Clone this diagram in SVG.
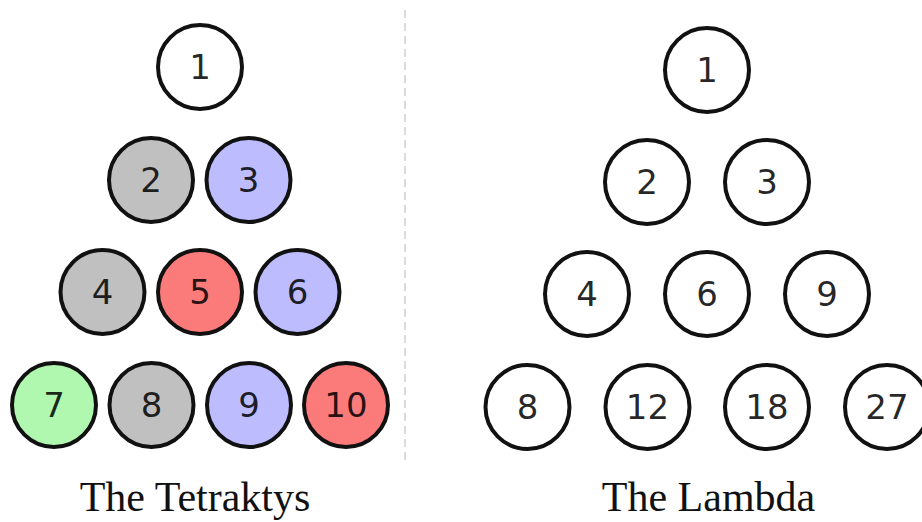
<svg xmlns="http://www.w3.org/2000/svg" width="922" height="522" viewBox="0 0 922 522">
<style>
.c{stroke:#111;stroke-width:4}
.w{fill:#fff}.g{fill:#c0c0c0}.b{fill:#bcbcff}.r{fill:#fb7b7b}.n{fill:#b0f8b0}
.t{font-family:"DejaVu Sans",sans-serif;font-size:34px;text-anchor:middle;fill:#000;fill-opacity:0.85}
.h{font-family:"Liberation Serif",serif;font-size:42px;text-anchor:middle;fill:#111}
</style>
<rect width="922" height="522" fill="#fff"/>
<g id="divider"><line x1="405" y1="10" x2="405" y2="462" stroke="#c4c4c4" stroke-width="1.2" stroke-dasharray="8 5"/></g>
<g id="connectors"/>
<g id="tetraktys">
<g id="t1"><circle class="c w" cx="200" cy="67" r="42"/><text class="t" x="200" y="79.4">1</text></g>
<g id="t2"><circle class="c g" cx="151" cy="180" r="42"/><text class="t" x="151" y="192.4">2</text></g>
<g id="t3"><circle class="c b" cx="248.5" cy="180" r="42"/><text class="t" x="248.5" y="192.4">3</text></g>
<g id="t4"><circle class="c g" cx="102.5" cy="292" r="42"/><text class="t" x="102.5" y="304.4">4</text></g>
<g id="t5"><circle class="c r" cx="200" cy="292" r="42"/><text class="t" x="200" y="304.4">5</text></g>
<g id="t6"><circle class="c b" cx="297.5" cy="292" r="42"/><text class="t" x="297.5" y="304.4">6</text></g>
<g id="t7"><circle class="c n" cx="54" cy="405" r="42"/><text class="t" x="54" y="417.4">7</text></g>
<g id="t8"><circle class="c g" cx="151.5" cy="405" r="42"/><text class="t" x="151.5" y="417.4">8</text></g>
<g id="t9"><circle class="c b" cx="249" cy="405" r="42"/><text class="t" x="249" y="417.4">9</text></g>
<g id="t10"><circle class="c r" cx="346" cy="405" r="42"/><text class="t" x="346" y="417.4">10</text></g>
<text class="h" x="195" y="511">The Tetraktys</text>
</g>
<g id="lambda">
<g id="l1"><circle class="c w" cx="707" cy="70" r="42"/><text class="t" x="707" y="82.4">1</text></g>
<g id="l2"><circle class="c w" cx="647" cy="182" r="42"/><text class="t" x="647" y="194.4">2</text></g>
<g id="l3"><circle class="c w" cx="767" cy="182" r="42"/><text class="t" x="767" y="194.4">3</text></g>
<g id="l4"><circle class="c w" cx="587" cy="294" r="42"/><text class="t" x="587" y="306.4">4</text></g>
<g id="l6"><circle class="c w" cx="707" cy="294" r="42"/><text class="t" x="707" y="306.4">6</text></g>
<g id="l9"><circle class="c w" cx="827" cy="294" r="42"/><text class="t" x="827" y="306.4">9</text></g>
<g id="l8"><circle class="c w" cx="527.5" cy="407" r="42"/><text class="t" x="527.5" y="419.4">8</text></g>
<g id="l12"><circle class="c w" cx="647.5" cy="407" r="42"/><text class="t" x="647.5" y="419.4">12</text></g>
<g id="l18"><circle class="c w" cx="767" cy="407" r="42"/><text class="t" x="767" y="419.4">18</text></g>
<g id="l27"><circle class="c w" cx="887" cy="407" r="42"/><text class="t" x="887" y="419.4">27</text></g>
<text class="h" x="708.5" y="511">The Lambda</text>
</g>
</svg>
